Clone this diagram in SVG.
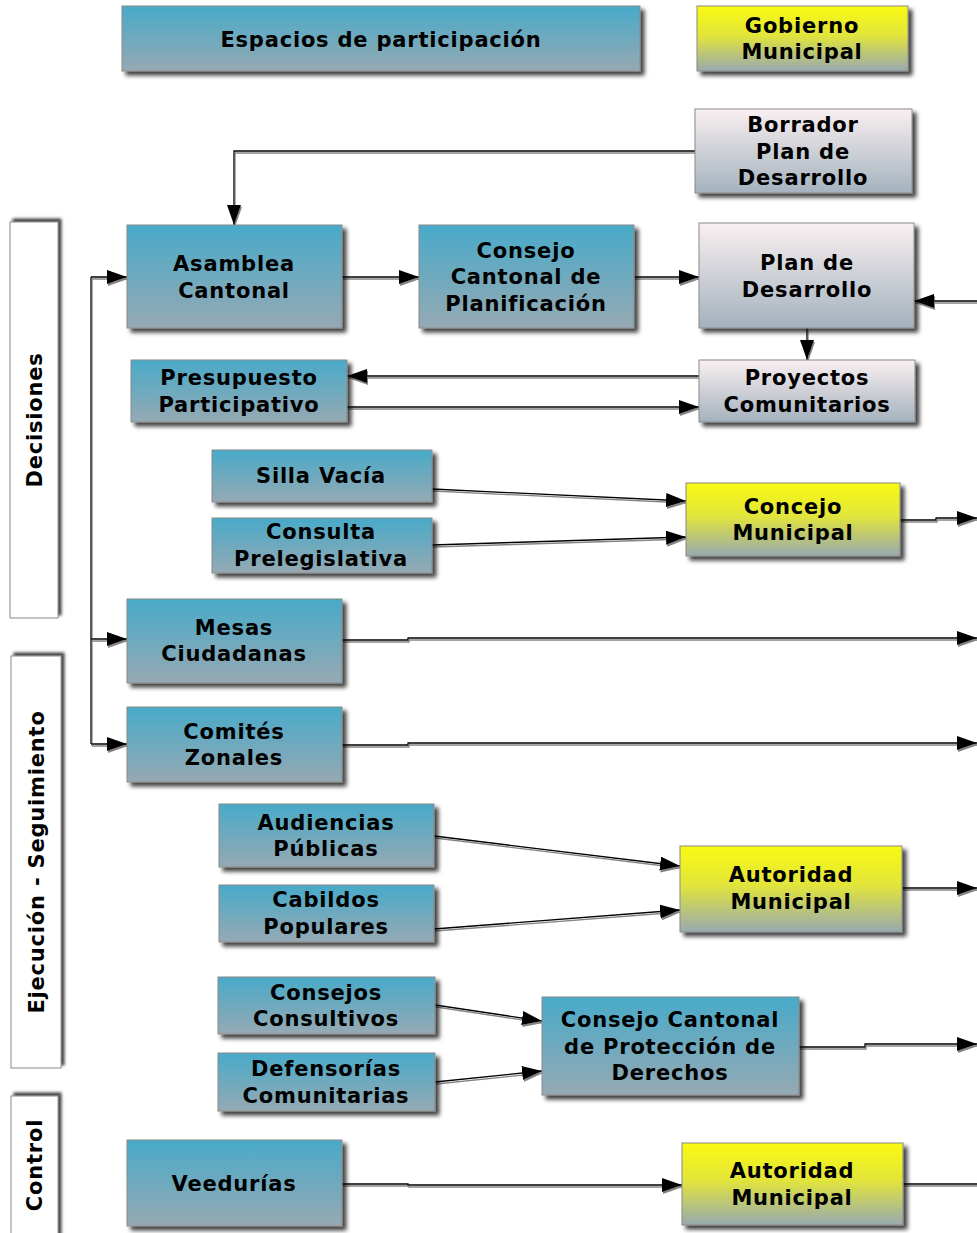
<svg xmlns="http://www.w3.org/2000/svg" width="977" height="1233" viewBox="0 0 977 1233">
<defs>
<linearGradient id="gTeal" x1="0" y1="0" x2="0" y2="1"><stop offset="0" stop-color="#48aac9"/><stop offset="1" stop-color="#96a9b3"/></linearGradient>
<linearGradient id="gYel" x1="0" y1="0" x2="0" y2="1"><stop offset="0" stop-color="#fafa12"/><stop offset="0.45" stop-color="#e2e53a"/><stop offset="1" stop-color="#98a9b0"/></linearGradient>
<linearGradient id="gPink" x1="0" y1="0" x2="0" y2="1"><stop offset="0" stop-color="#f9eff1"/><stop offset="1" stop-color="#a4b2bd"/></linearGradient>
<filter id="sh" x="-10%" y="-10%" width="130%" height="130%"><feDropShadow dx="4" dy="4" stdDeviation="2" flood-color="#000" flood-opacity="0.75"/></filter>
<filter id="shSide" x="-30%" y="-10%" width="160%" height="120%"><feDropShadow dx="3" dy="-3" stdDeviation="1.5" flood-color="#000" flood-opacity="0.75"/></filter>
<filter id="shLine" x="-5%" y="-20%" width="110%" height="140%"><feDropShadow dx="1" dy="2" stdDeviation="0.6" flood-color="#777" flood-opacity="0.9"/></filter>
<marker id="arr" markerUnits="userSpaceOnUse" markerWidth="20" markerHeight="14" viewBox="0 0 20 14" refX="20" refY="7" orient="auto"><path d="M0,0 L20,7 L0,14 z" fill="#000"/></marker>
</defs>
<style>
.box{stroke:#8a8a8a;stroke-width:1;filter:url(#sh)}
.teal{fill:url(#gTeal)}
.yel{fill:url(#gYel)}
.pink{fill:url(#gPink)}
.side{fill:#fff;stroke:#8a8a8a;stroke-width:1;filter:url(#shSide)}
text{font-family:"DejaVu Sans","Verdana",sans-serif;font-weight:bold;font-size:21px;letter-spacing:0.8px;fill:#000;text-anchor:middle}
.c{fill:none;stroke:#000;stroke-width:1.3}
.a{marker-end:url(#arr)}
</style>
<rect width="977" height="1233" fill="#fff"/>

<g id="side-decisiones"><rect class="side" x="10" y="222" width="48" height="396"/><text transform="translate(42,420) rotate(-90)">Decisiones</text></g>
<g id="side-ejecucion"><rect class="side" x="11" y="656" width="50" height="412"/><text transform="translate(44,862) rotate(-90)">Ejecución - Seguimiento</text></g>
<g id="side-control"><rect class="side" x="11" y="1096" width="47" height="145"/><text transform="translate(42,1165) rotate(-90)">Control</text></g>

<g id="connectors" filter="url(#shLine)">
<path class="c a" d="M695,151 H234 V225"/>
<path class="c a" d="M342,277 H419"/>
<path class="c a" d="M634,277 H699"/>
<path class="c a" d="M977,301 H914"/>
<path class="c a" d="M807,328 V360"/>
<path class="c a" d="M699,376 H347"/>
<path class="c a" d="M347,407 H699"/>
<path class="c a" d="M432,489 L686,501"/>
<path class="c a" d="M432,545 L686,537"/>
<path class="c a" d="M900,520 H936 V518 H977"/>
<path class="c" d="M91,277 V744"/>
<path class="c a" d="M91,277 H127"/>
<path class="c a" d="M91,639 H127"/>
<path class="c a" d="M91,744 H127"/>
<path class="c a" d="M342,640 H408 V638 H977"/>
<path class="c a" d="M342,745 H408 V743 H977"/>
<path class="c a" d="M434,836 L680,866"/>
<path class="c a" d="M434,929 L680,910"/>
<path class="c a" d="M902,888 H977"/>
<path class="c a" d="M435,1005 L542,1021"/>
<path class="c a" d="M435,1082 L542,1071"/>
<path class="c a" d="M799,1047 H865 V1044 H977"/>
<path class="c a" d="M342,1184 H408 V1185 H682"/>
<path class="c" d="M903,1184 H977"/>
</g>

<g id="n-header"><rect class="box teal" x="122" y="6" width="518" height="65"/><text x="381" y="47">Espacios de participación</text></g>
<g id="n-gobierno"><rect class="box yel" x="697" y="6" width="211" height="65"/><text x="802" y="33">Gobierno</text><text x="802" y="59">Municipal</text></g>
<g id="n-borrador"><rect class="box pink" x="695" y="109" width="217" height="84"/><text x="803" y="132">Borrador</text><text x="803" y="159">Plan de</text><text x="803" y="185">Desarrollo</text></g>
<g id="n-asamblea"><rect class="box teal" x="127" y="225" width="215" height="103"/><text x="234" y="271">Asamblea</text><text x="234" y="298">Cantonal</text></g>
<g id="n-consejo-plan"><rect class="box teal" x="419" y="225" width="215" height="103"/><text x="526" y="258">Consejo</text><text x="526" y="284">Cantonal de</text><text x="526" y="311">Planificación</text></g>
<g id="n-plan"><rect class="box pink" x="699" y="223" width="215" height="105"/><text x="807" y="270">Plan de</text><text x="807" y="297">Desarrollo</text></g>
<g id="n-presupuesto"><rect class="box teal" x="131" y="360" width="216" height="62"/><text x="239" y="385">Presupuesto</text><text x="239" y="412">Participativo</text></g>
<g id="n-proyectos"><rect class="box pink" x="699" y="360" width="216" height="62"/><text x="807" y="385">Proyectos</text><text x="807" y="412">Comunitarios</text></g>
<g id="n-silla"><rect class="box teal" x="212" y="450" width="220" height="52"/><text x="321" y="483">Silla Vacía</text></g>
<g id="n-consulta"><rect class="box teal" x="212" y="518" width="220" height="55"/><text x="321" y="539">Consulta</text><text x="321" y="566">Prelegislativa</text></g>
<g id="n-concejo"><rect class="box yel" x="686" y="483" width="214" height="73"/><text x="793" y="514">Concejo</text><text x="793" y="540">Municipal</text></g>
<g id="n-mesas"><rect class="box teal" x="127" y="599" width="215" height="84"/><text x="234" y="635">Mesas</text><text x="234" y="661">Ciudadanas</text></g>
<g id="n-comites"><rect class="box teal" x="127" y="707" width="215" height="75"/><text x="234" y="739">Comités</text><text x="234" y="765">Zonales</text></g>
<g id="n-audiencias"><rect class="box teal" x="219" y="804" width="215" height="63"/><text x="326" y="830">Audiencias</text><text x="326" y="856">Públicas</text></g>
<g id="n-cabildos"><rect class="box teal" x="219" y="885" width="215" height="57"/><text x="326" y="907">Cabildos</text><text x="326" y="934">Populares</text></g>
<g id="n-autoridad1"><rect class="box yel" x="680" y="846" width="222" height="86"/><text x="791" y="882">Autoridad</text><text x="791" y="909">Municipal</text></g>
<g id="n-consejos"><rect class="box teal" x="218" y="977" width="217" height="57"/><text x="326" y="1000">Consejos</text><text x="326" y="1026">Consultivos</text></g>
<g id="n-defensorias"><rect class="box teal" x="218" y="1053" width="217" height="58"/><text x="326" y="1076">Defensorías</text><text x="326" y="1103">Comunitarias</text></g>
<g id="n-consejo-prot"><rect class="box teal" x="542" y="997" width="257" height="98"/><text x="670" y="1027">Consejo Cantonal</text><text x="670" y="1054">de Protección de</text><text x="670" y="1080">Derechos</text></g>
<g id="n-veedurias"><rect class="box teal" x="127" y="1140" width="215" height="86"/><text x="234" y="1191">Veedurías</text></g>
<g id="n-autoridad2"><rect class="box yel" x="682" y="1143" width="221" height="82"/><text x="792" y="1178">Autoridad</text><text x="792" y="1205">Municipal</text></g>
</svg>
